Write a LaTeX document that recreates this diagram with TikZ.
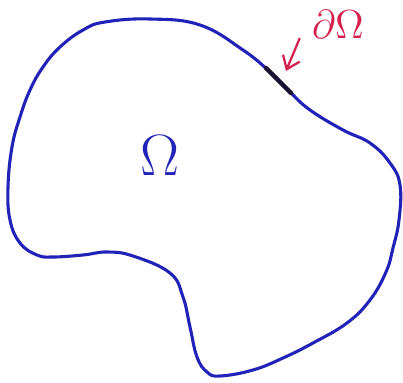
\documentclass[tikz,border=0pt]{standalone}
\usepackage{amsmath}
\usepackage{xcolor}
\usepackage{tikz}
\usetikzlibrary{arrows.meta}
\definecolor{inkblue}{HTML}{2222B8}
\definecolor{inkred}{HTML}{D6204E}
\definecolor{inkdark}{HTML}{1A1030}

\begin{document}
\begin{tikzpicture}[x=0.025cm, y=-0.025cm, line cap=round, line join=round,
  regionline/.style={inkblue, line width=2.2pt},
  bdrypiece/.style={inkdark, line width=3.2pt},
  bdryarrow/.style={-{Straight Barb[length=3mm, width=4.5mm, line width=1.6pt]}, inkred, line width=1.6pt},
  biglabel/.style={inner sep=0pt, font=\fontsize{20}{24}\selectfont, text=inkblue, scale=2, transform shape},
  redlabel/.style={inner sep=0pt, font=\fontsize{15}{18}\selectfont, text=inkred, scale=2, transform shape}]
\useasboundingbox (0,0) rectangle (403,383);
% the region
\draw[regionline] plot[smooth cycle, tension=0.7] coordinates {
  (105,22) (150,19) (200,25) (243,50) (270,72) (290,92) (310,110) (343,130)
  (370,143) (390,163) (400,185) (399,220) (393,248) (386,272) (370,300)
  (347,323) (313,343) (283,358) (253,370) (220,376) (207,372) (197,357)
  (190,327) (183,297) (170,273) (133,256) (107,252) (83,255) (53,257)
  (37,255) (20,243) (10,220) (8,187) (12,147) (20,117) (30,90) (43,67)
  (60,47) (83,30)};
% marked piece of the boundary
\draw[bdrypiece] plot[smooth, tension=0.7] coordinates {(266,68) (278,80) (291,93)};
\node[biglabel] (omega) at (160,156) {$\Omega$};
\node[redlabel] (bdrylabel) at (338,24) {$\partial\Omega$};
\coordinate (bdrytip) at (286,71);
\draw[bdryarrow] ([xshift=-3mm]bdrylabel.south west) -- (bdrytip);
\end{tikzpicture}
\end{document}
